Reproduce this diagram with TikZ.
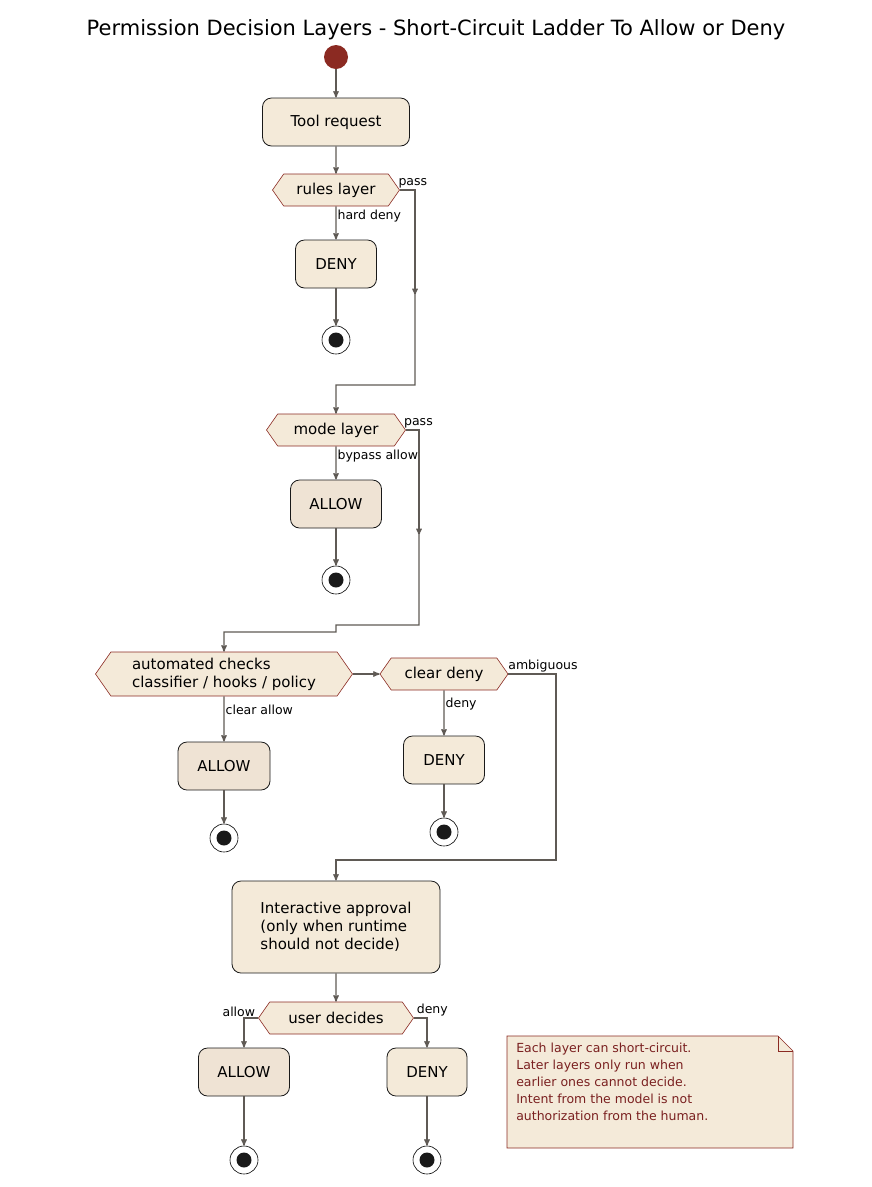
\documentclass[tikz,border=0pt]{standalone}
\usepackage{fontspec}
\setmainfont{DejaVu Sans}
\usetikzlibrary{arrows,shapes.symbols,calc}
\definecolor{actfill}{HTML}{F4EAD9}
\definecolor{allowfill}{HTML}{EFE3D4}
\definecolor{darkred}{HTML}{8B2A22}
\definecolor{flowgray}{HTML}{5F5A55}
\definecolor{notetext}{HTML}{7A2020}
\begin{document}
\begin{tikzpicture}[x=1pt, y=-1pt, >=stealth', semithick]
    \tikzstyle{act}=[draw=black!90, fill=actfill, rounded corners=9pt, minimum height=48pt, font=\fontsize{15}{18}\selectfont, thick]
    \tikzstyle{dec}=[draw=darkred, fill=actfill, signal, signal to=west and east, signal pointer angle=110, minimum height=32pt, inner xsep=2pt, font=\fontsize{15}{18}\selectfont]
    \tikzstyle{flow}=[->, draw=flowgray, line width=1.3pt]
    \tikzstyle{lbl}=[font=\fontsize{12.5}{14}\selectfont, inner sep=1pt]
    \tikzstyle{stop}=[circle, draw=black, fill=white, minimum size=28pt, inner sep=0pt, path picture={\fill[black!90] (path picture bounding box.center) circle (7.5pt);}]
    \useasboundingbox (0,0) rectangle (872,1187);
    \node[font=\fontsize{21}{24}\selectfont] (title) at (436,30) {Permission Decision Layers - Short-Circuit Ladder To Allow or Deny};
    \node[circle, fill=darkred, minimum size=24pt, inner sep=0pt] (start) at (336,57) {};
    \node[act, minimum width=147pt] (req) at (336,122) {Tool request};
    \node[dec, minimum width=127pt] (rules) at (336,190) {rules layer};
    \node[act, fill=actfill, minimum width=81pt] (deny1) at (336,264) {DENY};
    \node[stop] (stop1) at (336,340) {};
    \node[dec, minimum width=139pt] (mode) at (336,430) {mode layer};
    \node[act, fill=allowfill, minimum width=91pt] (allow1) at (336,504) {ALLOW};
    \node[stop] (stop2) at (336,580) {};
    \node[dec, minimum width=257pt, minimum height=44pt, align=left] (auto) at (224,674) {automated checks\\classifier / hooks / policy};
    \node[dec, minimum width=128pt] (cdeny) at (444,674) {clear deny};
    \node[act, fill=allowfill, minimum width=92pt] (allow2) at (224,766) {ALLOW};
    \node[stop] (stop3) at (224,838) {};
    \node[act, minimum width=81pt] (deny2) at (444,760) {DENY};
    \node[stop] (stop4) at (444,832) {};
    \node[act, minimum width=208pt, minimum height=92pt, align=left] (inter) at (336,927) {Interactive approval\\(only when runtime\\should not decide)};
    \node[dec, minimum width=155pt] (user) at (336,1018) {user decides};
    \node[act, fill=allowfill, minimum width=91pt] (allow3) at (244,1072) {ALLOW};
    \node[stop] (stop5) at (244,1160) {};
    \node[act, minimum width=80pt] (deny3) at (427,1072) {DENY};
    \node[stop] (stop6) at (427,1160) {};
    % note
    \draw[darkred, fill=actfill] (507,1036) -- (778,1036) -- (793,1051) -- (793,1148) -- (507,1148) -- cycle;
    \draw[darkred] (778,1036) -- (778,1051) -- (793,1051);
    \node[anchor=north west, align=left, text=notetext, font=\fontsize{12.5}{17}\selectfont, inner sep=0pt] (note) at (516,1043) {Each layer can short-circuit.\\Later layers only run when\\earlier ones cannot decide.\\Intent from the model is not\\authorization from the human.};
    % connectors
    \coordinate (m1) at (415,295);
    \coordinate (m2) at (419,535);
    \draw[flow] (start) -- (req);
    \draw[flow] (req) -- (rules);
    \draw[flow] (rules) -- node[lbl, right, pos=0.3]{hard deny} (deny1);
    \draw[flow] (deny1) -- (stop1);
    \draw[flow] (rules.east) -- node[lbl, above right, pos=0.2, xshift=-6pt]{pass} (rules.east -| m1) -- (m1);
    \draw[flow] (m1) -- (415,385) -- (336,385) -- (mode);
    \draw[flow] (mode) -- node[lbl, right, pos=0.3]{bypass allow} (allow1);
    \draw[flow] (allow1) -- (stop2);
    \draw[flow] (mode.east) -- node[lbl, above right, pos=0.2, xshift=-6pt]{pass} (mode.east -| m2) -- (m2);
    \draw[flow] (m2) -- (419,625) -- (336,625) -- (336,632) -- (224,632) -- (auto);
    \draw[flow] (auto) -- node[lbl, right, pos=0.3]{clear allow} (allow2);
    \draw[flow] (allow2) -- (stop3);
    \draw[flow] (auto.east) -- (cdeny.west);
    \draw[flow] (cdeny) -- node[lbl, right, pos=0.3]{deny} (deny2);
    \draw[flow] (deny2) -- (stop4);
    \draw[flow] (cdeny.east) -- node[lbl, above right, pos=0.05, xshift=-4pt]{ambiguous} (556,674) -- (556,860) -- (336,860) -- (inter);
    \draw[flow] (inter) -- (user);
    \draw[flow] (user.west) -- node[lbl, above left, pos=0.1]{allow} (allow3.north |- user.west) -- (allow3);
    \draw[flow] (user.east) -- node[lbl, above right, pos=0.1]{deny} (deny3.north |- user.east) -- (deny3);
    \draw[flow] (allow3) -- (stop5);
    \draw[flow] (deny3) -- (stop6);
\end{tikzpicture}
\end{document}
